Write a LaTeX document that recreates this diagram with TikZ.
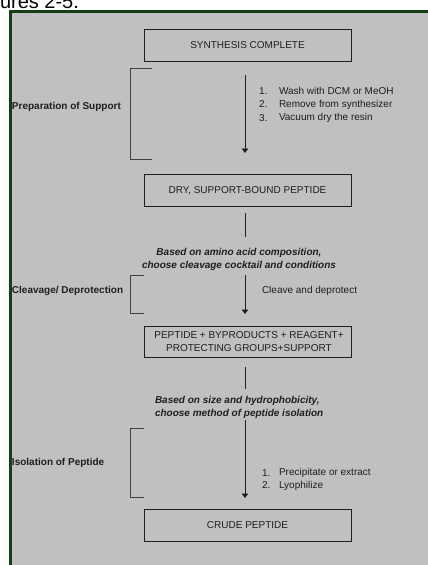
\documentclass[tikz,border=0pt]{standalone}
\usepackage{fontspec}
\setmainfont{Liberation Sans}
\usetikzlibrary{arrows.meta}
\definecolor{panelgray}{RGB}{192,192,192}
\definecolor{frameGreen}{RGB}{22,62,22}
\definecolor{inkc}{RGB}{30,30,30}
\begin{document}
\begin{tikzpicture}[x=1pt,y=-1pt,
  every node/.style={inner sep=0pt,outer sep=0pt,text=inkc,font=\fontsize{10}{13}\selectfont},
  stagebox/.style={draw=inkc,line width=0.9pt,minimum width=207pt,minimum height=32pt,align=center},
  arr/.style={draw=inkc,line width=0.8pt,-{Triangle[width=6.5pt,length=4.5pt]}},
  plainline/.style={draw=inkc,line width=0.8pt},
  brk/.style={draw=inkc!85,line width=0.8pt},
  sidelab/.style={anchor=west,font=\fontsize{10}{13}\selectfont\bfseries},
  note/.style={font=\fontsize{10}{13}\selectfont\bfseries\itshape},
  item/.style={anchor=west}]
\useasboundingbox (0,0) rectangle (428,565);
% background panel
\fill[panelgray] (9,10) rectangle (428,565);
\fill[frameGreen] (9,10) rectangle (428,13);
\fill[frameGreen] (9,10) rectangle (12,565);
% clipped caption at top
\node[anchor=base west,font=\fontsize{20}{24}\selectfont,text=black] (cap) at (0,8) {ures 2-5.};
% boxes
\node[stagebox] (synth) at (247.5,45) {SYNTHESIS COMPLETE};
\node[stagebox] (dry) at (247.5,190.5) {DRY, SUPPORT-BOUND PEPTIDE};
\node[stagebox,minimum height=31pt] (mix) at (247.5,341.5) {\hspace{3pt}PEPTIDE + BYPRODUCTS + REAGENT+\\\hspace{3pt}PROTECTING GROUPS+SUPPORT};
\node[stagebox] (crude) at (247.5,525) {CRUDE PEPTIDE};
% coordinates for connectors
\coordinate (a1s) at (245,75);  \coordinate (a1e) at (245,153);
\coordinate (l1s) at (245,213); \coordinate (l1e) at (245,237);
\coordinate (a2s) at (245,275); \coordinate (a2e) at (245,314);
\coordinate (l2s) at (245,367); \coordinate (l2e) at (245,389);
\coordinate (a3s) at (245,420); \coordinate (a3e) at (245,498);
\draw[arr] (a1s) -- (a1e);
\draw[plainline] (l1s) -- (l1e);
\draw[arr] (a2s) -- (a2e);
\draw[plainline] (l2s) -- (l2e);
\draw[arr] (a3s) -- (a3e);
% brackets
\coordinate (b1a) at (152,68);  \coordinate (b1b) at (130,68);
\coordinate (b1c) at (130,159); \coordinate (b1d) at (152,159);
\draw[brk] (b1a) -- (b1b) -- (b1c) -- (b1d);
\coordinate (b2a) at (144,275); \coordinate (b2b) at (130,275);
\coordinate (b2c) at (130,313); \coordinate (b2d) at (144,313);
\draw[brk] (b2a) -- (b2b) -- (b2c) -- (b2d);
\coordinate (b3a) at (144,428); \coordinate (b3b) at (130,428);
\coordinate (b3c) at (130,497); \coordinate (b3d) at (144,497);
\draw[brk] (b3a) -- (b3b) -- (b3c) -- (b3d);
% side labels
\node[sidelab] (prep) at (12,107) {Preparation of Support};
\node[sidelab] (cleav) at (12,291) {Cleavage/ Deprotection};
\node[sidelab] (isol) at (12,463) {Isolation of Peptide};
% step lists
\node[item] (n11) at (259,91) {1.};   \node[item] (t11) at (279,91) {Wash with DCM or MeOH};
\node[item] (n12) at (259,104.5) {2.}; \node[item] (t12) at (279,104.5) {Remove from synthesizer};
\node[item] (n13) at (259,118) {3.};  \node[item] (t13) at (279,118) {Vacuum dry the resin};
\node[item] (t21) at (262,291) {Cleave and deprotect};
\node[item] (n31) at (262,473) {1.};  \node[item] (t31) at (279,473) {Precipitate or extract};
\node[item] (n32) at (262,485.5) {2.}; \node[item] (t32) at (279,485.5) {Lyophilize};
% notes
\node[note,align=center] (note1) at (239,259.5) {Based on amino acid composition,\\choose cleavage cocktail and conditions};
\node[note,align=left,anchor=west] (note2) at (155,407.5) {Based on size and hydrophobicity,\\choose method of peptide isolation};
\end{tikzpicture}
\end{document}
